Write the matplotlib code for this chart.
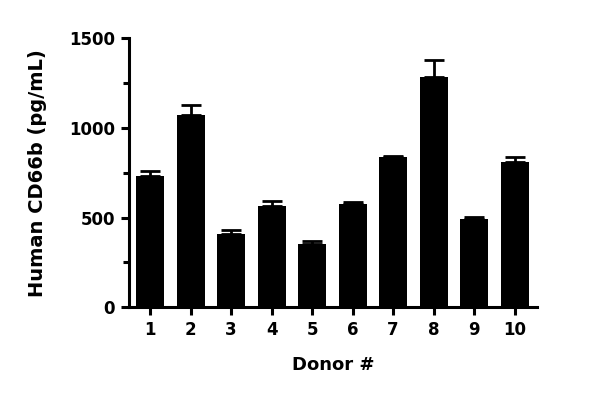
import matplotlib
matplotlib.use("Agg")
import matplotlib.pyplot as plt
from matplotlib.ticker import MultipleLocator

donors = ["1", "2", "3", "4", "5", "6", "7", "8", "9", "10"]
means = [729, 1072, 407, 563, 352, 576, 837, 1285, 490, 807]
errors = [28, 57, 26, 29, 18, 11, 7, 94, 13, 30]

plt.rcParams['font.family'] = ['DejaVu Sans']
plt.rcParams['font.weight'] = 'bold'

fig = plt.figure(figsize=(6, 3.97), dpi=100)
ax = fig.add_axes([0.215, 0.226, 0.68, 0.678])

x = list(range(1, len(donors) + 1))
ax.bar(x, means, width=0.69, color='black', zorder=2)
ax.errorbar(x, means, yerr=[[0] * len(errors), errors], fmt='none',
            ecolor='black', elinewidth=2, capsize=7, capthick=2, zorder=1)

ax.set_xlim(0.48, 10.55)
ax.set_ylim(0, 1500)
ax.set_xticks(x)
ax.set_xticklabels(donors)
ax.yaxis.set_major_locator(MultipleLocator(500))
ax.yaxis.set_minor_locator(MultipleLocator(250))

for s in ['top', 'right']:
    ax.spines[s].set_visible(False)
for s in ['left', 'bottom']:
    ax.spines[s].set_linewidth(2.2)

ax.tick_params(axis='both', which='major', direction='out', length=6, width=2.2,
               labelsize=12, pad=4)
ax.tick_params(axis='y', which='minor', direction='out', length=4, width=2.2)

for lbl in ax.get_xticklabels() + ax.get_yticklabels():
    lbl.set_fontweight('bold')

ax.set_ylabel("Human CD66b (pg/mL)", fontsize=14, fontweight='bold', labelpad=16)
ax.set_xlabel("Donor #", fontsize=13, fontweight='bold', labelpad=12)

fig.savefig("out.png", dpi=100)
